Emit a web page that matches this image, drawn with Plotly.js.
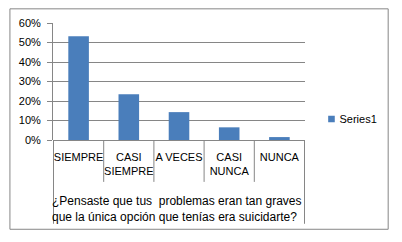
<!DOCTYPE html>
<html>
<head>
<meta charset="utf-8">
<script src="https://cdn.plot.ly/plotly-3.0.1.min.js"></script>
<style>
html,body{margin:0;padding:0;background:#fff;}
#chart{width:402px;height:242px;}
</style>
</head>
<body>
<div id="chart"></div>
<script>
const categories = ["SIEMPRE", "CASI<br>SIEMPRE", "A VECES", "CASI<br>NUNCA", "NUNCA"];
const series1 = [53.2, 23.4, 14.3, 6.5, 1.5];
const yTickVals = [0, 10, 20, 30, 40, 50, 60];
const yTickText = ["0%", "10%", "20%", "30%", "40%", "50%", "60%"];
const seriesName = "Series1";
const axisTitle = "¿Pensaste que tus  problemas eran tan graves<br>que la única opción que tenías era suicidarte?";

const FONT = "Liberation Sans, Arial, sans-serif";
const GRID = "#868686";
const plotH = 117.3; // px height of plot area

const shapes = [];
for (let i = 0; i <= categories.length; i++) {
  const isEdge = (i === 0 || i === categories.length);
  shapes.push({
    type: "line", xref: "x", yref: "paper",
    x0: i - 0.5, x1: i - 0.5,
    y0: 0, y1: isEdge ? -84 / plotH : -42 / plotH,
    line: {color: GRID, width: 1}
  });
}
shapes.push({
  type: "rect", xref: "paper", yref: "paper",
  x0: (9.5 - 53) / 254.5, x1: (391.5 - 53) / 254.5,
  y0: (140 - 229.5) / plotH, y1: (140 - 8.5) / plotH,
  line: {color: GRID, width: 1}, fillcolor: "rgba(0,0,0,0)"
});

const data = [{
  type: "bar",
  x: categories,
  y: series1,
  name: seriesName,
  marker: {color: "#4a7ebb"},
  showlegend: true
}];

const layout = {
  width: 402, height: 242,
  margin: {l: 53, r: 94.5, t: 22.7, b: 102, pad: 0},
  paper_bgcolor: "#fff", plot_bgcolor: "#fff",
  font: {family: FONT, size: 11, color: "#000"},
  bargap: 0.59,
  showlegend: true,
  legend: {
    x: (310 - 53) / 254.5, y: (140 - 119) / plotH,
    xanchor: "left", yanchor: "middle",
    font: {family: FONT, size: 11, color: "#000"},
    itemwidth: 30, bgcolor: "rgba(0,0,0,0)"
  },
  xaxis: {
    type: "category",
    showgrid: false, zeroline: false,
    showline: false, ticks: "",
    tickangle: 0,
    ticklabelstandoff: 9,
    tickfont: {family: FONT, size: 11, color: "#000"},
    fixedrange: true
  },
  yaxis: {
    range: [0, 60],
    tickvals: yTickVals, ticktext: yTickText,
    showgrid: true, gridcolor: GRID, gridwidth: 1,
    zeroline: true, zerolinecolor: GRID, zerolinewidth: 1,
    showline: true, linecolor: GRID, linewidth: 1,
    ticks: "outside", ticklen: 5, tickcolor: GRID,
    ticklabelstandoff: 4,
    tickfont: {family: FONT, size: 11, color: "#000"},
    fixedrange: true
  },
  shapes: shapes,
  annotations: [{
    xref: "paper", yref: "paper",
    x: 0.49, y: (140 - 209) / plotH,
    xanchor: "center", yanchor: "middle",
    text: axisTitle, showarrow: false,
    font: {family: FONT, size: 12, color: "#000"},
    align: "left"
  }]
};

Plotly.newPlot("chart", data, layout, {displayModeBar: false, staticPlot: true}).then(function () {
  document.querySelectorAll("#chart .legendpoints path").forEach(function (p) {
    p.setAttribute("transform", "translate(24,0) scale(0.55)");
  });
  document.querySelectorAll("#chart text.legendtext").forEach(function (t) {
    t.setAttribute("x", "32");
  });
});
</script>
</body>
</html>
